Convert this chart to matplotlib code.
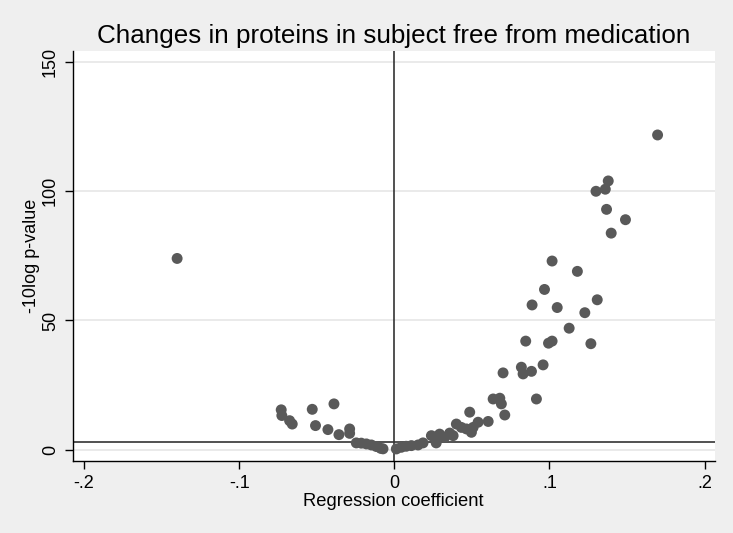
import matplotlib
matplotlib.use("Agg")
import matplotlib.pyplot as plt

plt.rcParams['font.family'] = ['Liberation Sans', 'DejaVu Sans']

coef = [-0.140,
        -0.0729, -0.0725, -0.0675, -0.0658, -0.0529, -0.0389, -0.0508, -0.0428, -0.0357,
        -0.0288, -0.0288, -0.0245, -0.0213, -0.0180, -0.0148, -0.0116, -0.0088, -0.0073,
        0.0013, 0.0045, 0.0077, 0.0110, 0.0153, 0.0185, 0.0239, 0.0270, 0.0292, 0.0325,
        0.0379, 0.0357, 0.0400, 0.0432, 0.0465, 0.0497, 0.0508, 0.0540, 0.0605, 0.0486,
        0.0637, 0.0680, 0.0690, 0.0712, 0.0701, 0.0819, 0.0830, 0.0884, 0.0959, 0.0916,
        0.0847, 0.0994, 0.1017, 0.1267, 0.1127, 0.0888, 0.1050, 0.1228, 0.1308, 0.0968,
        0.1180, 0.1017, 0.1398, 0.1490, 0.1368, 0.1300, 0.1360, 0.1379, 0.1697]
logp = [74.0,
        15.4, 13.2, 11.2, 9.9, 15.6, 17.7, 9.3, 7.75, 5.8,
        8.0, 6.3, 2.6, 2.5, 2.2, 1.8, 1.2, 0.5, 0.3,
        0.26, 0.9, 1.3, 1.55, 1.8, 2.6, 5.4, 2.6, 6.0, 4.8,
        5.4, 6.4, 9.9, 8.6, 8.0, 6.7, 8.6, 10.6, 10.9, 14.5,
        19.6, 19.9, 17.7, 13.4, 29.7, 31.9, 29.3, 30.3, 32.8, 19.6,
        42.0, 41.2, 42.0, 41.0, 47.0, 56.0, 55.0, 53.0, 58.0, 62.0,
        69.0, 73.0, 83.8, 89.0, 93.0, 100.0, 100.8, 104.0, 121.8]

xticks = [-0.2, -0.1, 0.0, 0.1, 0.2]
xticklabels = ['-.2', '-.1', '0', '.1', '.2']
yticks = [0, 50, 100, 150]
threshold = 3.0

fig = plt.figure(figsize=(7.33, 5.33), dpi=100, facecolor='#efefef')
ax = fig.add_axes([0.0992, 0.1356, 0.975 - 0.0992, 0.9043 - 0.1356])
ax.set_facecolor('white')

for y in yticks:
    ax.axhline(y, color='#e6e6e6', lw=1.2, zorder=0)
ax.axhline(threshold, color='#333333', lw=1.2, zorder=1)
ax.axvline(0, color='#333333', lw=1.2, zorder=1)

ax.scatter(coef, logp, s=62, color='#595959', edgecolors='none', zorder=3)

ax.set_xlim(-0.2073, 0.2065)
ax.set_ylim(-4.3, 154.3)
ax.set_xticks(xticks)
ax.set_xticklabels(xticklabels)
ax.set_yticks(yticks)
ax.set_yticklabels([str(v) for v in yticks], rotation=90, va='center')

for s in ['top', 'right']:
    ax.spines[s].set_visible(False)
for s in ['left', 'bottom']:
    ax.spines[s].set_color('black')
    ax.spines[s].set_linewidth(1.0)
ax.tick_params(axis='both', direction='out', length=6, width=1, labelsize=13, color='black', pad=4)

ax.set_xlabel('Regression coefficient', fontsize=13.2, labelpad=1)
ax.set_ylabel('-10log p-value', fontsize=13, labelpad=1)
ax.set_title('Changes in proteins in subject free from medication', fontsize=18.7, pad=6)

fig.savefig('out.png', dpi=100, facecolor=fig.get_facecolor())
